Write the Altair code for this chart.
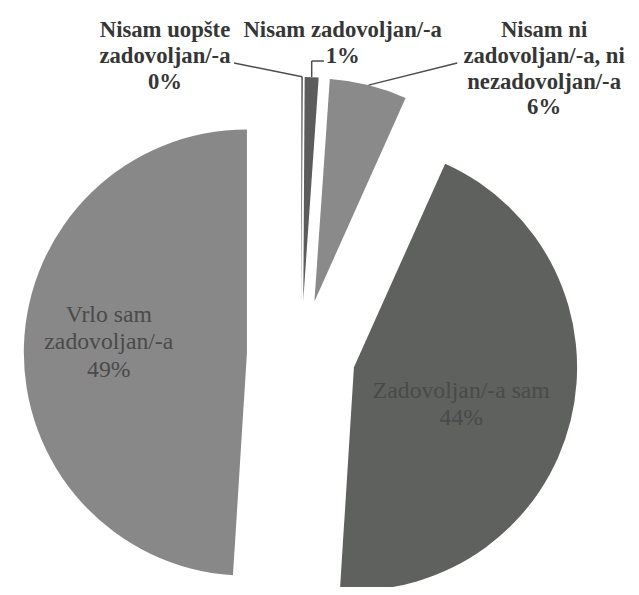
import altair as alt
import pandas as pd

# ---- data ----
categories = [
    "Nisam uopšte zadovoljan/-a",
    "Nisam zadovoljan/-a",
    "Nisam ni zadovoljan/-a, ni nezadovoljan/-a",
    "Zadovoljan/-a sam",
    "Vrlo sam zadovoljan/-a",
]
label_text = [
    "Nisam uopšte\nzadovoljan/-a",
    "Nisam zadovoljan/-a",
    "Nisam ni\nzadovoljan/-a, ni\nnezadovoljan/-a",
    "Zadovoljan/-a sam",
    "Vrlo sam\nzadovoljan/-a",
]
values = [0.1, 1.0, 5.6, 44.3, 49.0]
pct_labels = ["0%", "1%", "6%", "44%", "49%"]
slice_colors = ["#4a4a4a", "#5c5c5c", "#8a8a8a", "#5e615e", "#888888"]

df = pd.DataFrame({
    "category": categories,
    "label": [t + "\n" + p for t, p in zip(label_text, pct_labels)],
    "value": values,
    "order": list(range(len(categories))),
})

# ---- layout (view pixels) ----
CX, CY = 297, 347      # pie centre
EXPLODE = 55           # explosion distance
R = 226                # outer radius
W, H = 631, 579
SERIF = "Liberation Serif, Times New Roman, serif"

base = alt.Chart(df).transform_joinaggregate(
    total="sum(value)"
).transform_window(
    cum="sum(value)", sort=[alt.SortField("order")]
).transform_calculate(
    t0="2*PI*(datum.cum-datum.value)/datum.total",
    t1="2*PI*datum.cum/datum.total",
    tm="(datum.t0+datum.t1)/2",
    cx=f"{CX}+{EXPLODE}*sin(datum.tm)",
    cy=f"{CY}-{EXPLODE}*cos(datum.tm)",
    ex=f"datum.cx+{R}*sin(datum.tm)",
    ey=f"datum.cy-{R}*cos(datum.tm)",
)

X = alt.X("cx:Q", scale=None, axis=None)
Y = alt.Y("cy:Q", scale=None, axis=None)
TM = alt.Theta("tm:Q", scale=None, stack=False)

arcs = base.mark_arc(radius=R).encode(
    x=X, y=Y,
    theta=alt.Theta("t0:Q", scale=None, stack=False),
    theta2="t1:Q",
    color=alt.Color("category:N", scale=alt.Scale(domain=categories, range=slice_colors), legend=None),
)

INNER = dict(font=SERIF, fontSize=24, lineHeight=28, lineBreak="\n",
             align="center", baseline="middle", color="#4a4a4a")
inner_zad = base.transform_filter("datum.order == 3").mark_text(
    radius=112, dy=-3, **INNER).encode(x=X, y=Y, theta=TM, text="label:N")
inner_vrlo = base.transform_filter("datum.order == 4").mark_text(
    radius=140, dy=-34, **INNER).encode(x=X, y=Y, theta=TM, text="label:N")

FONT = dict(font=SERIF, fontSize=23, fontWeight="bold", lineHeight=26,
            lineBreak="\n", align="center", baseline="alphabetic", color="#363636")

outer_pos = {0: (159, 26), 1: (339, 26), 2: (543, 26)}
outer = []
for i, (px, py) in outer_pos.items():
    outer.append(
        base.transform_filter(f"datum.order == {i}").mark_text(**FONT).encode(
            x=alt.value(px), y=alt.value(py), text="label:N")
    )

LINE = dict(color="#4d4d4d", strokeWidth=1.5)
EX = alt.X("ex:Q", scale=None, axis=None)
EY = alt.Y("ey:Q", scale=None, axis=None)
lead0 = base.transform_filter("datum.order == 0").mark_rule(**LINE).encode(
    x=EX, y=EY, x2=alt.value(229), y2=alt.value(52))
lead1v = base.transform_filter("datum.order == 1").mark_rule(**LINE).encode(
    x=EX, y=EY, y2=alt.value(50))
lead1h = base.transform_filter("datum.order == 1").mark_rule(**LINE).encode(
    x=EX, x2=alt.value(320), y=alt.value(50))
lead2 = base.transform_filter("datum.order == 2").mark_rule(**LINE).encode(
    x=EX, y=EY, x2=alt.value(455), y2=alt.value(52))

chart = alt.layer(arcs, inner_zad, inner_vrlo, lead0, lead1v, lead1h, lead2, *outer).properties(
    width=W, height=H, padding=0, autosize="none", background="white"
).configure_view(stroke=None)

chart.save("out.html", embed_options={"renderer": "svg", "actions": False})
